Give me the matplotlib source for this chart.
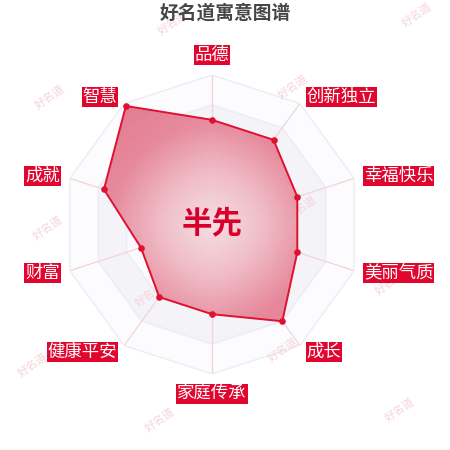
import numpy as np
import matplotlib
matplotlib.use("Agg")
import matplotlib.pyplot as plt
from matplotlib.colors import LinearSegmentedColormap

plt.rcParams['font.family'] = ['Noto Sans CJK SC', 'DejaVu Sans']

title = "好名道寓意图谱"
name = "半先"
categories = ["品德", "创新独立", "幸福快乐", "美丽气质", "成长",
              "家庭传承", "健康平安", "财富", "成就", "智慧"]
values = [70, 70, 60, 60, 80, 60, 60, 50, 76, 98]
max_value = 100
split_number = 5
watermark = "好名道"
watermark_pos = [(0.384, 0.949), (0.927, 0.967), (0.111, 0.784), (0.651, 0.807),
                 (0.107, 0.493), (0.671, 0.538), (0.333, 0.344), (0.867, 0.371),
                 (0.073, 0.189), (0.629, 0.222), (0.356, 0.067), (0.889, 0.089)]

n = len(categories)
angles = np.arange(n) * 2 * np.pi / n
vals = np.array(values) / max_value

fig = plt.figure(figsize=(4.5, 4.5), dpi=100)
fig.patch.set_facecolor('white')
R_px = 149.5
cx, cy = 212, 224.5
ax = fig.add_axes([(cx - R_px) / 450, (450 - cy - R_px) / 450, 2 * R_px / 450, 2 * R_px / 450],
                  projection='polar')
ax.set_theta_zero_location('N')
ax.set_theta_direction(-1)
ax.set_ylim(0, 1)
ax.set_facecolor('none')
ax.grid(False)
ax.set_xticks([])
ax.set_yticks([])
ax.spines['polar'].set_visible(False)

closed = np.append(angles, angles[0])

# split areas
area_colors = ['#fbfbfd', '#f3f3f8', '#fbfbfd', '#f3f3f8', '#fcfcfe']
for k in range(split_number, 0, -1):
    r = k / split_number
    ax.fill(closed, [r] * (n + 1), color=area_colors[k - 1], zorder=1, lw=0)
# split lines
for k in range(1, split_number + 1):
    r = k / split_number
    ax.plot(closed, [r] * (n + 1), color='#ececf4', lw=1, zorder=1.2)
# axis lines
for a in angles:
    ax.plot([a, a], [0, 1], color='#f3d3da', lw=0.9, zorder=1.3)

# watermarks
for (x, y) in watermark_pos:
    ax.text(x, y, watermark, transform=fig.transFigure, rotation=35,
            fontsize=8, color='#f3d5db', ha='center', va='center',
            zorder=1.5, clip_on=False)

# data polygon with radial gradient
vclosed = np.append(vals, vals[0])
poly = ax.fill(closed, vclosed, facecolor='none', edgecolor='none', zorder=2)[0]
cmap = LinearSegmentedColormap.from_list('g', ['#f5dde2', '#f0bcc6', '#e6899c', '#e27a8f'])
th = np.linspace(0, 2 * np.pi, 361)
rr = np.linspace(0, 1, 101)
C = np.tile(((rr[:-1] + rr[1:]) / 2)[:, None], (1, 360))
mesh = ax.pcolormesh(th, rr, C, cmap=cmap, vmin=0, vmax=1, shading='flat',
                     zorder=2, alpha=0.95)
mesh.set_clip_path(poly)
ax.plot(closed, vclosed, color='#e0102f', lw=1.4, zorder=3)
ax.scatter(angles, vals, s=14, color='#e0102f', zorder=4)

# labels
pad = 1.5
for a, lab in zip(angles, categories):
    deg = np.degrees(a)
    if np.isclose(deg, 0):
        ha, va, dx, dy = 'center', 'bottom', 0, pad + 0.5
    elif np.isclose(deg, 180):
        ha, va, dx, dy = 'center', 'top', 0, -pad - 0.5
    elif deg < 180:
        ha, va, dx, dy = 'left', 'center', pad, 0
    else:
        ha, va, dx, dy = 'right', 'center', -pad, 0
    ax.annotate(lab, xy=(a, 1.054), xytext=(dx, dy), textcoords='offset points',
                ha=ha, va=va, fontsize=12.5, color='white', zorder=5,
                annotation_clip=False,
                bbox=dict(boxstyle='square,pad=0.06', fc='#e0062e', ec='none'))

# center name
ax.text(0, 0.01, name, ha='center', va='center', fontsize=22, fontweight='bold',
        color='#d8002b', zorder=6)

fig.text(225 / 450, 1 - 13 / 450, title, ha='center', va='center', fontsize=13.5,
         fontweight='bold', color='#464646')

fig.savefig('out.png', dpi=100, facecolor='white')
